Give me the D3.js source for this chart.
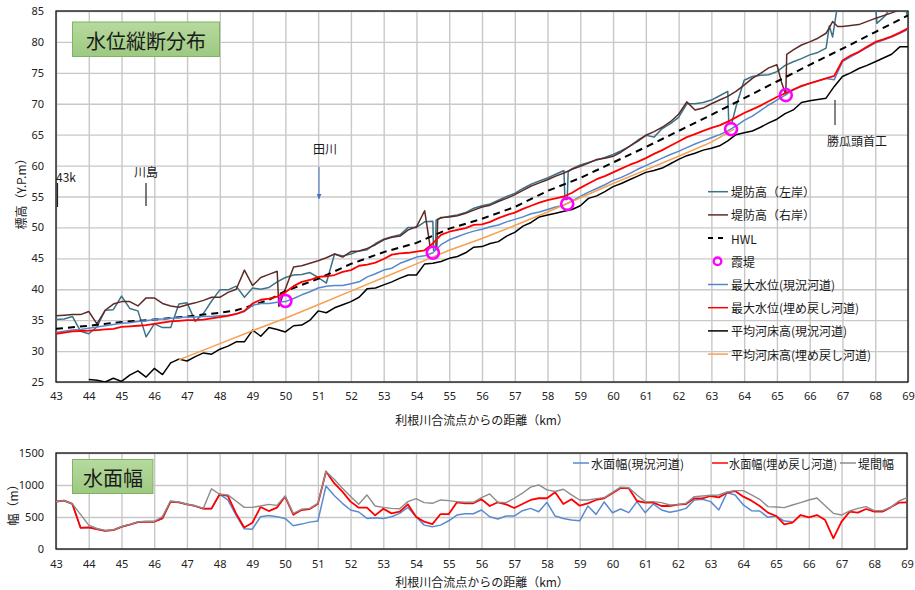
<!DOCTYPE html>
<html>
<head>
<meta charset="utf-8">
<script src="https://cdn.jsdelivr.net/npm/d3@7/dist/d3.min.js"></script>
<style>
  body { margin: 0; background: #fff; }
  text { font-family: "Noto Sans CJK JP", "Noto Sans", sans-serif; fill: #1a1a1a; }
  .tick text { font-family: "Noto Sans", "Open Sans", sans-serif; font-size: 11px; fill: #222; }
</style>
</head>
<body>
<svg id="chart" width="915" height="590"></svg>
<script>
// ---- distance axis (km from the Tone River confluence) ----
const kmTicks = d3.range(43, 70);
const kmGrid = d3.range(105).map(i => 43 + i * 0.25);

// ---- longitudinal profile (elevation, Y.P.m) ----
const elevTicks = d3.range(25, 90, 5);

// levee crown, left bank
const leftKm = [43,43.25,43.5,43.75,44,44.25,44.5,44.75,45,45.25,45.5,45.75,46,46.25,46.5,46.75,47,47.25,47.5,47.75,
  48,48.25,48.5,48.75,49,49.25,49.5,49.75,50,50.25,50.5,50.75,51,51.25,51.5,51.75,52,52.25,52.5,52.75,
  53,53.25,53.5,53.75,54,54.25,54.5,54.52,54.58,54.6,54.75,55,55.25,55.5,55.75,56,56.25,56.5,56.75,
  57,57.25,57.5,57.75,58,58.25,58.5,58.53,58.6,58.63,58.75,59,59.25,59.5,59.75,60,60.25,60.5,60.75,
  61,61.25,61.5,61.75,62,62.25,62.5,62.75,63,63.25,63.5,63.53,63.62,63.75,64,64.25,64.5,64.75,
  65,65.25,65.5,65.75,66,66.25,66.5,66.6,66.7,66.85,67,67.5,68,68.05,68.3,68.6,68.85,69];
const leftBank = [35.1,35.2,35.6,33.2,32.8,33.9,36.6,36.7,38.9,36.9,36.5,32.3,34.4,33.8,33.8,37.6,37.8,34.8,36.1,38.1,
  39.9,39.9,40.5,38.7,40.2,40.0,40.3,41.2,41.9,42.3,42.4,42.7,41.9,41.0,45.7,45.4,45.7,46.2,46.4,47.4,
  48.1,48.5,48.8,50.0,50.0,50.9,51.0,46.3,46.3,51.2,51.5,51.8,52.0,52.4,53.1,53.5,53.8,54.4,55.0,
  55.5,56.3,57.0,57.5,58.0,58.6,59.2,54.5,54.5,59.0,59.5,60.1,60.5,60.9,61.3,61.8,62.4,63.1,64.1,
  64.9,64.6,66.0,66.8,67.8,70.0,70.0,70.2,70.6,71.3,72.0,66.8,66.8,69.5,73.8,74.4,74.6,74.7,
  75.2,76.2,76.8,77.3,77.9,78.3,79.0,82.6,80.8,86.0,87.5,88.0,87.0,83.0,84.2,86.5,86.5,84.0];

// levee crown, right bank
const rightKm = [43,43.25,43.5,43.75,44,44.25,44.5,44.75,45,45.25,45.5,45.75,46,46.25,46.5,46.75,47,47.25,47.5,47.75,
  48,48.25,48.5,48.75,49,49.25,49.5,49.75,49.8,50.25,50.5,50.75,51,51.25,51.5,51.75,52,52.25,52.5,52.75,
  53,53.25,53.5,53.75,54,54.25,54.42,54.62,54.65,54.75,55,55.25,55.5,55.75,56,56.25,56.5,56.75,
  57,57.25,57.5,57.75,58,58.25,58.5,58.75,59,59.25,59.5,59.75,60,60.25,60.5,60.75,
  61,61.25,61.5,61.75,62,62.25,62.5,62.75,63,63.25,63.5,63.75,64,64.25,64.5,64.75,
  65,65.15,65.27,65.3,65.5,65.75,66,66.25,66.5,66.7,66.85,67,67.5,68,68.5,69];
const rightBank = [35.7,35.8,35.9,35.9,36.4,34.4,36.6,37.6,38.0,38.0,37.3,38.6,38.6,37.7,37.3,37.1,37.5,37.8,38.2,38.7,
  38.7,39.5,40.0,43.1,40.6,41.9,42.4,42.9,37.2,43.6,43.8,44.2,44.6,45.1,45.7,45.2,46.1,46.2,46.6,47.2,
  48.0,48.4,48.6,49.6,50.1,52.7,46.8,46.8,51.3,51.6,51.7,51.9,52.3,52.8,53.3,53.6,54.2,54.7,
  55.3,56.0,56.7,57.2,57.7,58.3,58.8,59.4,59.9,60.4,61.0,61.2,61.5,62.2,63.1,63.9,
  64.9,65.5,66.2,67.1,68.3,70.3,69.0,69.3,70.0,70.6,71.2,72.0,73.0,74.1,74.9,75.8,
  76.3,73.3,71.5,78.0,78.7,79.5,80.0,80.6,81.4,83.3,82.5,82.5,82.8,83.8,84.7,85.7];

// design high water level
const hwlKm = [43,44,45,46,47,48,48.5,49,49.5,50,50.5,51,52,53,54,55,56,57,58,59,60,61,62,63,64,65,66,67,68,69];
const hwl = [33.6,34.1,34.7,35.1,35.6,36.2,36.6,37.4,38.3,39.7,40.7,41.7,44.1,46.0,47.5,49.8,51.4,53.3,55.9,58.0,
  60.5,63.0,65.6,68.2,70.9,73.6,76.3,78.9,81.6,84.3];

// open (kasumi) levee locations
const kasumiKm = [50.0, 54.5, 58.6, 63.6, 65.27];
const kasumiElev = [38.1, 45.9, 53.8, 65.9, 71.4];

// maximum water level, present channel (on kmGrid)
const wlNow = [33.0,33.2,33.4,33.5, 33.7,33.9,34.1,34.3, 34.5,34.6,34.8,34.9, 35.1,35.2,35.3,35.4,
  35.5,35.5,35.6,35.6, 35.7,35.8,36.0,36.4, 37.4,37.7,37.7,37.9, 38.0,38.5,39.1,39.6,
  40.2,40.5,40.6,40.6, 40.9,41.2,42.0,42.5, 43.1,43.4,44.2,44.7, 45.2,45.4,45.9,47.2,
  48.0,48.5,49.0,49.4, 49.7,50.1,50.4,50.9, 51.3,51.7,52.2,52.5, 52.9,53.3,53.6,54.3,
  55.0,55.7,56.3,56.9, 57.6,58.1,58.7,59.4, 60.0,60.6,61.2,61.8, 62.3,62.9,63.5,64.0,
  64.5,65.0,65.6,66.4, 67.3,68.0,68.9,69.8, 70.6,71.4,72.2,72.8, 73.3,73.7,74.1,73.9,
  76.8,77.6,78.3,79.1, 79.8,80.3,80.8,81.4, 82.0];

// maximum water level, refilled channel (on kmGrid)
const wlFill = [32.8,33.0,33.2,33.25, 33.3,33.4,33.5,33.6, 33.9,34.0,34.1,34.2, 34.4,34.6,34.8,34.9,
  35.0,35.0,35.1,35.3, 35.5,35.7,36.0,36.5, 37.7,38.3,38.5,38.8, 39.5,40.5,41.2,41.5,
  42.0,42.1,42.3,42.8, 43.1,43.8,44.0,44.3, 44.9,45.6,45.8,45.9, 46.1,46.3,47.4,48.8,
  49.3,49.6,49.9,50.4, 50.5,50.9,51.5,52.0, 52.4,53.0,53.5,54.0, 54.4,54.7,55.0,55.6,
  56.4,57.1,57.8,58.3, 58.9,59.5,60.1,60.6, 61.2,61.9,62.5,63.2, 63.9,64.6,65.1,65.6,
  66.1,66.5,67.1,67.8, 68.5,69.1,69.7,70.4, 71.1,71.7,72.3,72.9, 73.3,73.7,74.1,74.5,
  77.0,77.8,78.4,79.2, 80.0,80.4,80.9,81.5, 82.2];

// mean bed elevation, present channel (on kmGrid; below the axis before 44 km)
const bedNow = [null,null,null,null, 25.4,25.3,25.0,25.6, 25.1,26.1,26.8,25.8, 27.2,26.2,28.1,28.7,
  28.4,29.1,29.7,29.5, 30.3,30.8,31.5,31.5, 33.4,32.4,33.8,33.5, 33.1,34.1,34.2,35.0,
  36.5,36.2,37.0,37.5, 38.0,38.7,40.1,40.2, 40.7,41.2,41.8,42.3, 42.3,44.1,44.2,44.5,
  45.0,45.3,45.9,46.8, 46.9,47.4,47.7,48.6, 49.2,50.2,50.8,51.7, 52.0,52.3,52.6,52.9,
  53.5,54.7,55.1,55.8, 56.6,57.1,57.7,58.3, 58.9,59.2,59.6,60.3, 61.0,61.6,62.0,62.5,
  62.8,63.2,64.0,65.0, 65.3,65.6,66.2,66.9, 67.5,68.4,69.0,70.2, 70.5,70.7,70.9,72.8,
  74.4,75.0,75.7,76.2, 76.8,77.4,78.0,79.2, 79.2];

// mean bed elevation, refilled channel
const bedFillKm = [46.75,47,48,49,50,51,52,53,54,55,56,57,58,59,60,61,62,63,63.7];
const bedFill = [28.6,29.1,31.2,33.3,35.3,37.5,39.7,41.9,44.1,46.3,48.2,50.3,52.5,54.8,57.1,59.3,61.5,63.8,65.9];

const topLegend = ["堤防高（左岸）","堤防高（右岸）","HWL","霞堤","最大水位(現況河道)","最大水位(埋め戻し河道)","平均河床高(現況河道)","平均河床高(埋め戻し河道)"];

// ---- water surface width (m), on kmGrid ----
const widthTicks = [0, 500, 1000, 1500];
const widthNow = [740,756,704,331, 337,310,284,295, 347,379,420,426, 426,478,740,730,
  698,672,630,630, 855,766,530,316, 310,504,525,504, 478,363,389,420,
  436,986,835,714, 609,578,478,488, 478,504,557,651, 504,373,347,373,
  441,530,551,551, 609,504,468,515, 515,599,635,583, 730,515,478,452,
  441,672,541,735, 567,625,568,740, 568,703,610,573, 599,635,766,776,
  740,610,880,844, 688,599,594,495, 516,437,427,null, null,null,null,null,
  null,null,null,null, null,null,null,null, null];
const widthFill = [740,756,704,331, 337,310,284,295, 347,379,420,426, 426,478,740,730,
  698,672,630,630, 855,830,557,337, 410,656,593,646, 819,536,609,625,
  704,1212,1028,897, 740,646,646,525, 630,557,583,698, 504,426,389,546,
  546,730,714,714, 777,672,730,698, 641,704,766,793, 793,887,704,777,
  677,714,766,793, 872,955,948,750, 724,724,672,672, 693,703,792,792,
  828,807,880,906, 818,755,672,568, 516,385,411,531, 495,531,453,167,
  427,583,568,625, 583,583,651,724, 729];
const leveeGap = [740,756,704,540, 373,320,290,300, 350,385,425,430, 430,505,750,735,
  700,675,635,940, 855,845,750,651, 651,672,698,682, 830,557,620,635,
  714,1212,1091,950, 819,698,845,672, 651,635,630,740, 787,724,714,766,
  756,740,730,730, 803,861,730,724, 793,872,966,1002, 924,898,934,845,
  766,766,787,803, 885,966,958,844, 740,740,724,688, 693,714,818,828,
  839,844,891,912, 912,844,776,662, 656,646,688,724, 766,797,677,557,
  531,594,635,662, 599,599,651,750, 802];
const bottomLegend = ["水面幅(現況河道)", "水面幅(埋め戻し河道)", "堤間幅"];

// ================= drawing =================
(function draw() {
const svg = d3.select("#chart");
const defs = svg.append("defs");

const grad = defs.append("linearGradient").attr("id", "boxFill").attr("x1", 0).attr("y1", 0).attr("x2", 0).attr("y2", 1);
grad.append("stop").attr("offset", "0%").attr("stop-color", "#b7da9f");
grad.append("stop").attr("offset", "100%").attr("stop-color", "#9dc981");

// arrowhead pointing along the line direction
defs.append("marker").attr("id", "arrowHead").attr("viewBox", "0 0 10 10")
  .attr("refX", 10).attr("refY", 5).attr("markerWidth", 5).attr("markerHeight", 5)
  .attr("markerUnits", "userSpaceOnUse").attr("orient", "auto")
  .append("path").attr("d", "M0,0 L10,5 L0,10 Z").attr("fill", "#4472c4");

const gridColor = "#c8c8c8";
const zip = (ks, vs) => ks.map((k, i) => [k, vs[i]]);

// ---------- profile panel ----------
const T = { left: 56, right: 908, top: 11, bottom: 382 };
const x = d3.scaleLinear().domain([43, 69]).range([T.left, T.right]);
const y = d3.scaleLinear().domain([25, 85]).range([T.bottom, T.top]);

defs.append("clipPath").attr("id", "clipTop").append("rect")
  .attr("x", T.left).attr("y", T.top).attr("width", T.right - T.left).attr("height", T.bottom - T.top);

const gTop = svg.append("g");

gTop.append("g").attr("transform", `translate(0,${T.bottom})`)
  .call(d3.axisBottom(x).tickValues(kmTicks).tickSize(-(T.bottom - T.top)).tickFormat(""))
  .call(g => g.select(".domain").remove())
  .selectAll("line").attr("stroke", gridColor).attr("stroke-width", 1.4);
gTop.append("g").attr("transform", `translate(${T.left},0)`)
  .call(d3.axisLeft(y).tickValues(elevTicks).tickSize(-(T.right - T.left)).tickFormat(""))
  .call(g => g.select(".domain").remove())
  .selectAll("line").attr("stroke", gridColor).attr("stroke-width", 1.4);

gTop.append("g").attr("transform", `translate(0,${T.bottom})`)
  .call(d3.axisBottom(x).tickValues(kmTicks).tickSize(0).tickPadding(10).tickFormat(d3.format("d")))
  .call(g => g.select(".domain").remove());
gTop.append("g").attr("transform", `translate(${T.left},0)`)
  .call(d3.axisLeft(y).tickValues(elevTicks).tickSize(0).tickPadding(12).tickFormat(d3.format("d")))
  .call(g => g.select(".domain").remove());

gTop.append("rect").attr("x", T.left).attr("y", T.top).attr("width", T.right - T.left).attr("height", T.bottom - T.top)
  .attr("fill", "none").attr("stroke", "#111").attr("stroke-width", 1.3);

const plotTop = gTop.append("g").attr("clip-path", "url(#clipTop)");
const lineXY = d3.line().defined(d => d[1] != null).x(d => x(d[0])).y(d => y(d[1]));

const topSeries = [
  { pts: zip(leftKm, leftBank), color: "#3b7286", w: 1.5 },
  { pts: zip(rightKm, rightBank), color: "#5e2a27", w: 1.5 },
  { pts: zip(hwlKm, hwl), color: "#000", w: 2, dash: "7,5" },
  { pts: zip(kmGrid, wlNow), color: "#5687cc", w: 1.5 },
  { pts: zip(kmGrid, wlFill), color: "#ff0000", w: 1.8 },
  { pts: zip(kmGrid, bedNow), color: "#000", w: 1.5 },
  { pts: zip(bedFillKm, bedFill), color: "#f7a04e", w: 1.5 }
];
topSeries.forEach(s => {
  plotTop.append("path").attr("d", lineXY(s.pts)).attr("fill", "none")
    .attr("stroke", s.color).attr("stroke-width", s.w)
    .attr("stroke-dasharray", s.dash || null).attr("stroke-linejoin", "round");
});
plotTop.selectAll("circle.kasumi").data(zip(kasumiKm, kasumiElev)).join("circle")
  .attr("class", "kasumi").attr("cx", d => x(d[0])).attr("cy", d => y(d[1])).attr("r", 6)
  .attr("fill", "none").attr("stroke", "#ff00ff").attr("stroke-width", 2.6);

// place-name annotations
gTop.append("text").attr("x", 56).attr("y", 176).attr("dominant-baseline", "central").attr("font-size", 12).text("43k");
gTop.append("line").attr("x1", 57.5).attr("x2", 57.5).attr("y1", 183).attr("y2", 207).attr("stroke", "#222").attr("stroke-width", 1.2);
gTop.append("text").attr("x", 146).attr("y", 171).attr("text-anchor", "middle").attr("dominant-baseline", "central").attr("font-size", 12).text("川島");
gTop.append("line").attr("x1", 146).attr("x2", 146).attr("y1", 183).attr("y2", 206).attr("stroke", "#222").attr("stroke-width", 1.2);
gTop.append("text").attr("x", 325).attr("y", 148).attr("text-anchor", "middle").attr("dominant-baseline", "central").attr("font-size", 12).text("田川");
gTop.append("line").attr("x1", 319).attr("x2", 319).attr("y1", 167).attr("y2", 199).attr("stroke", "#4472c4").attr("stroke-width", 1)
  .attr("marker-end", "url(#arrowHead)");
gTop.append("line").attr("x1", 835).attr("x2", 835).attr("y1", 100).attr("y2", 125).attr("stroke", "#333").attr("stroke-width", 1.2);
gTop.append("text").attr("x", 827).attr("y", 140).attr("dominant-baseline", "central").attr("font-size", 12).text("勝瓜頭首工");

// title box
gTop.append("rect").attr("x", 72.5).attr("y", 22).attr("width", 147).attr("height", 34.5)
  .attr("fill", "url(#boxFill)").attr("stroke", "#7fb35f").attr("stroke-width", 1);
gTop.append("text").attr("x", 146).attr("y", 40).attr("text-anchor", "middle").attr("dominant-baseline", "central")
  .attr("font-size", 20).text("水位縦断分布");

// axis titles
gTop.append("text").attr("transform", "translate(20,191) rotate(-90)").attr("text-anchor", "middle")
  .attr("dominant-baseline", "central").attr("font-size", 12).text("標高（Y.P.m）");
gTop.append("text").attr("x", 482).attr("y", 419).attr("text-anchor", "middle").attr("dominant-baseline", "central")
  .attr("font-size", 12).text("利根川合流点からの距離（km）");

// legend
topLegend.forEach((label, i) => {
  const ly = 191.7 + i * 23.2;
  const g = gTop.append("g");
  if (i === 3) {
    g.append("circle").attr("cx", 717.5).attr("cy", ly).attr("r", 3.8).attr("fill", "none")
      .attr("stroke", "#ff00ff").attr("stroke-width", 2.4);
  } else {
    const s = topSeries[i < 3 ? i : i - 1];
    g.append("line").attr("x1", 708).attr("x2", 728).attr("y1", ly).attr("y2", ly)
      .attr("stroke", s.color).attr("stroke-width", s.dash ? 2 : 1.5).attr("stroke-dasharray", s.dash ? "5,5" : null);
  }
  g.append("text").attr("x", 731).attr("y", ly).attr("dominant-baseline", "central").attr("font-size", 12).text(label);
});

// ---------- width panel ----------
const B = { left: 56, right: 907, top: 453, bottom: 549 };
const xb = d3.scaleLinear().domain([43, 69]).range([B.left, B.right]);
const yb = d3.scaleLinear().domain([0, 1500]).range([B.bottom, B.top]);
const gBot = svg.append("g");

gBot.append("g").attr("transform", `translate(0,${B.bottom})`)
  .call(d3.axisBottom(xb).tickValues(kmTicks).tickSize(-(B.bottom - B.top)).tickFormat(""))
  .call(g => g.select(".domain").remove())
  .selectAll("line").attr("stroke", gridColor).attr("stroke-width", 1.4);
gBot.append("g").attr("transform", `translate(${B.left},0)`)
  .call(d3.axisLeft(yb).tickValues(widthTicks).tickSize(-(B.right - B.left)).tickFormat(""))
  .call(g => g.select(".domain").remove())
  .selectAll("line").attr("stroke", gridColor).attr("stroke-width", 1.4);

gBot.append("g").attr("transform", `translate(0,${B.bottom})`)
  .call(d3.axisBottom(xb).tickValues(kmTicks).tickSize(0).tickPadding(11).tickFormat(d3.format("d")))
  .call(g => g.select(".domain").remove());
gBot.append("g").attr("transform", `translate(${B.left},0)`)
  .call(d3.axisLeft(yb).tickValues(widthTicks).tickSize(0).tickPadding(12).tickFormat(d3.format("d")))
  .call(g => g.select(".domain").remove());

gBot.append("rect").attr("x", B.left).attr("y", B.top).attr("width", B.right - B.left).attr("height", B.bottom - B.top)
  .attr("fill", "none").attr("stroke", "#111").attr("stroke-width", 1.3);

const lineW = d3.line().defined(d => d[1] != null).x(d => xb(d[0])).y(d => yb(d[1]));
const bottomSeries = [
  { vals: widthNow, color: "#5a8ad0", w: 1.5 },
  { vals: widthFill, color: "#ff0000", w: 1.8 },
  { vals: leveeGap, color: "#8c8c8c", w: 1.4 }
];
bottomSeries.forEach(s => {
  gBot.append("path").attr("d", lineW(zip(kmGrid, s.vals))).attr("fill", "none")
    .attr("stroke", s.color).attr("stroke-width", s.w).attr("stroke-linejoin", "round");
});

// legend (entry positions and text widths)
const legX = [[573, 591, 93], [712, 729, 108], [840, 858, 36]];
bottomLegend.forEach((label, i) => {
  gBot.append("line").attr("x1", legX[i][0]).attr("x2", legX[i][0] + 16).attr("y1", 463).attr("y2", 463)
    .attr("stroke", bottomSeries[i].color).attr("stroke-width", 1.5);
  gBot.append("text").attr("x", legX[i][1]).attr("y", 463).attr("dominant-baseline", "central").attr("font-size", 12)
    .attr("textLength", legX[i][2]).attr("lengthAdjust", "spacingAndGlyphs").text(label);
});

// title box
gBot.append("rect").attr("x", 72.5).attr("y", 459.5).attr("width", 80.5).attr("height", 34)
  .attr("fill", "url(#boxFill)").attr("stroke", "#7fb35f").attr("stroke-width", 1);
gBot.append("text").attr("x", 113).attr("y", 477).attr("text-anchor", "middle").attr("dominant-baseline", "central")
  .attr("font-size", 20).text("水面幅");

// axis titles
gBot.append("text").attr("transform", "translate(12,502) rotate(-90)").attr("text-anchor", "middle")
  .attr("dominant-baseline", "central").attr("font-size", 12).text("幅（m）");
gBot.append("text").attr("x", 482).attr("y", 581).attr("text-anchor", "middle").attr("dominant-baseline", "central")
  .attr("font-size", 12).text("利根川合流点からの距離（km）");
})();
</script>
</body>
</html>
